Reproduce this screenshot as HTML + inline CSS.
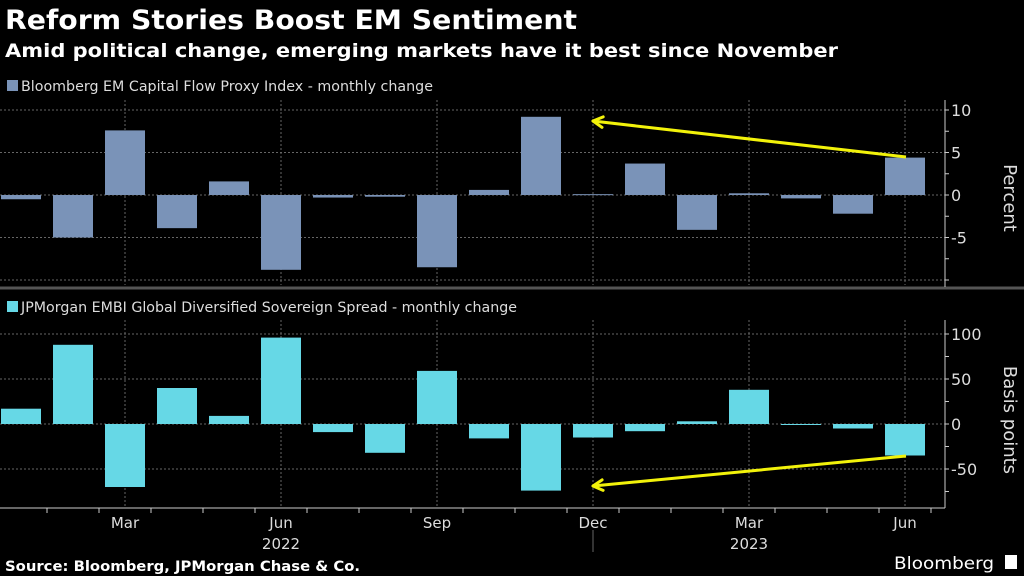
<!DOCTYPE html>
<html><head><meta charset="utf-8"><style>
html,body{margin:0;padding:0;background:#000;}
svg{display:block;font-family:"DejaVu Sans","Liberation Sans",sans-serif;}
</style></head><body>
<svg id="c" width="1024" height="576" viewBox="0 0 1024 576">
<rect width="1024" height="576" fill="#000"/>
<text x="5" y="29" fill="#fff" font-weight="bold" font-size="27" textLength="572" lengthAdjust="spacingAndGlyphs">Reform Stories Boost EM Sentiment</text>
<text x="5" y="57" fill="#fff" font-weight="bold" font-size="19" textLength="833" lengthAdjust="spacingAndGlyphs">Amid political change, emerging markets have it best since November</text>
<rect x="7" y="80" width="11" height="11" fill="#7a93b8"/>
<text x="21" y="91" fill="#ddd" font-size="14" textLength="412" lengthAdjust="spacingAndGlyphs">Bloomberg EM Capital Flow Proxy Index - monthly change</text>
<rect x="7" y="301" width="11" height="11" fill="#66d8e6"/>
<text x="21" y="312" fill="#ddd" font-size="14" textLength="496" lengthAdjust="spacingAndGlyphs">JPMorgan EMBI Global Diversified Sovereign Spread - monthly change</text>
<line x1="0" y1="288" x2="1024" y2="288" stroke="#555" stroke-width="3"/>
<g id="g"></g>
<text x="5" y="571" fill="#fff" font-weight="bold" font-size="14" textLength="355" lengthAdjust="spacingAndGlyphs">Source: Bloomberg, JPMorgan Chase &amp; Co.</text>
<text x="894" y="569" fill="#fff" font-size="17" textLength="100" lengthAdjust="spacingAndGlyphs">Bloomberg</text>
<rect x="1005" y="555" width="12" height="14" fill="#fff"/>
</svg>
<script>
const months = ["Jan","Feb","Mar","Apr","May","Jun","Jul","Aug","Sep","Oct","Nov","Dec","Jan","Feb","Mar","Apr","May","Jun"];
const flowValues = [-0.5,-5,7.6,-3.9,1.6,-8.8,-0.3,-0.2,-8.5,0.6,9.2,0.1,3.7,-4.1,0.2,-0.4,-2.2,4.4];
const spreadValues = [17,88,-70,40,9,96,-9,-32,59,-16,-74,-15,-8,3,38,-1,-5,-35];
const topTicks = [10,5,0,-5,-10];
const topTickLabels = ["10","5","0","-5",""];
const bottomTicks = [100,50,0,-50];
const bottomTickLabels = ["100","50","0","-50"];
const xLabelIdx = [2,5,8,11,14,17];
const years = [{label:"2022",idx:5.5},{label:"2023",idx:14.5}];

const NS="http://www.w3.org/2000/svg";
const g=document.getElementById('g');
function mk(t,a,p){const e=document.createElementNS(NS,t);for(const k in a)e.setAttribute(k,a[k]);(p||g).appendChild(e);return e;}
const xC=i=>21+52*i;
const yTop=v=>195-8.5*v;
const yBot=v=>424-0.9*v;
const axisX=945;

// gridlines
topTicks.forEach(t=>{const e=mk('line',{x1:0,x2:axisX,y1:yTop(t),y2:yTop(t),stroke:'#666','stroke-dasharray':'2,2'});

});
bottomTicks.forEach(t=>{const e=mk('line',{x1:0,x2:axisX,y1:yBot(t),y2:yBot(t),stroke:'#666','stroke-dasharray':'2,2'});

});
xLabelIdx.forEach(i=>{[[100,285],[320,508]].forEach(r=>{const e=mk('line',{x1:xC(i),x2:xC(i),y1:r[0],y2:r[1],stroke:'#666','stroke-dasharray':'2,2'});

});});

// bars
flowValues.forEach((v,i)=>{const y0=yTop(0),y1=yTop(v);const e=mk('rect',{x:xC(i)-20,y:Math.min(y0,y1),width:40,height:Math.max(1,Math.abs(y1-y0)),fill:'#7a93b8'});

});
spreadValues.forEach((v,i)=>{const y0=yBot(0),y1=yBot(v);const e=mk('rect',{x:xC(i)-20,y:Math.min(y0,y1),width:40,height:Math.max(1,Math.abs(y1-y0)),fill:'#66d8e6'});

});

// axes
let a=mk('line',{x1:axisX,x2:axisX,y1:100,y2:287,stroke:'#ccc'});


a=mk('line',{x1:axisX,x2:axisX,y1:320,y2:508,stroke:'#ccc'});


a=mk('line',{x1:0,x2:axisX,y1:508,y2:508,stroke:'#ccc'});


for(let v=10;v>=-10;v-=2.5){const e=mk('line',{x1:axisX,x2:axisX+4,y1:yTop(v),y2:yTop(v),stroke:'#ccc'});

}
for(let v=100;v>=-75;v-=25){const e=mk('line',{x1:axisX,x2:axisX+4,y1:yBot(v),y2:yBot(v),stroke:'#ccc'});

}
topTicks.forEach((t,k)=>{if(!topTickLabels[k])return;const e=mk('text',{x:axisX+6,y:yTop(t)+6,fill:'#ddd','font-size':16});e.textContent=topTickLabels[k];

});
bottomTicks.forEach((t,k)=>{const e=mk('text',{x:axisX+6,y:yBot(t)+6,fill:'#ddd','font-size':16});e.textContent=bottomTickLabels[k];

});
let t=mk('text',{x:1004,y:198,fill:'#ddd','font-size':18,'text-anchor':'middle',transform:'rotate(90 1004 198)'});t.textContent='Percent';


t=mk('text',{x:1004,y:420,fill:'#ddd','font-size':18,'text-anchor':'middle',transform:'rotate(90 1004 420)'});t.textContent='Basis points';



// x ticks
for(let i=0;i<=18;i++){const e=mk('line',{x1:xC(i)-26,x2:xC(i)-26,y1:508,y2:513,stroke:'#ccc'});

}
xLabelIdx.forEach(i=>{const e=mk('text',{x:xC(i),y:528,fill:'#ddd','font-size':15,'text-anchor':'middle'});e.textContent=months[i];

});
years.forEach(y=>{const e=mk('text',{x:xC(y.idx)-26,y:549,fill:'#ddd','font-size':15,'text-anchor':'middle'});e.textContent=y.label;

});
a=mk('line',{x1:xC(11),x2:xC(11),y1:530,y2:552,stroke:'#666'});



// arrows
function arrow(x1,y1,x2,y2,name){const grp=mk('g',{});


mk('line',{x1,y1,x2,y2,stroke:'#f2f20a','stroke-width':3},grp);
const ang=Math.atan2(y1-y2,x1-x2),L=11;
[0.5,-0.5].forEach(d=>mk('line',{x1:x2,y1:y2,x2:x2+L*Math.cos(ang+d),y2:y2+L*Math.sin(ang+d),stroke:'#f2f20a','stroke-width':3,'stroke-linecap':'round'},grp));}
arrow(906,157,593,121,'top-arrow');
arrow(906,456,593,486,'bottom-arrow');
</script>
</body></html>
